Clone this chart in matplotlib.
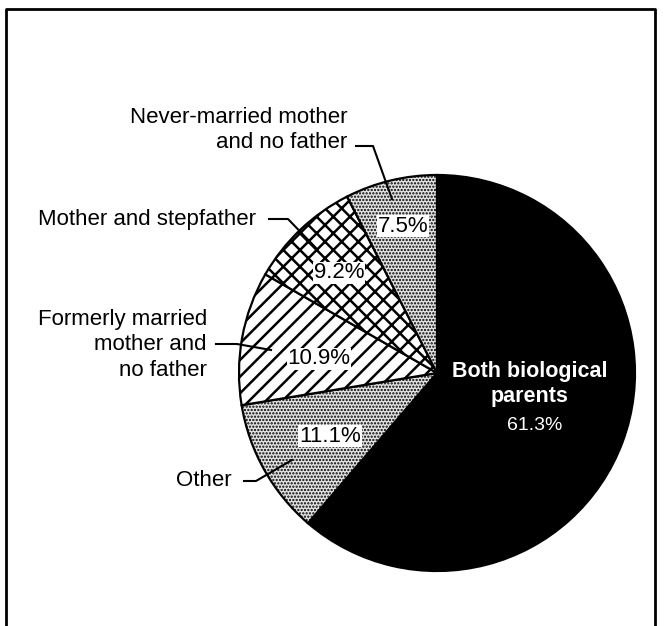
import matplotlib
matplotlib.use('Agg')
import matplotlib.pyplot as plt

# living arrangements of children, percent
categories = ['Both biological\nparents', 'Other', 'Formerly married\nmother and\nno father',
              'Mother and stepfather', 'Never-married mother\nand no father']
shares = [61.3, 11.1, 10.9, 9.2, 7.5]
pct_labels = ['61.3%', '11.1%', '10.9%', '9.2%', '7.5%']

W, H = 665, 626
plt.rcParams['font.family'] = ['Liberation Sans', 'DejaVu Sans']
plt.rcParams['hatch.linewidth'] = 1.8


def py(y):
    # image pixel row -> data y
    return H - y


fig = plt.figure(figsize=(W / 100, H / 100), dpi=100)
ax = fig.add_axes([0, 0, 1, 1])

cx, cy, r = 437, 373, 198
faces = ['black', '#e4e4e4', 'white', 'white', '#e4e4e4']
hatches = [None, '.....', '//', 'xx', '.....']
wedges, _ = ax.pie(shares, startangle=90, counterclock=False, center=(cx, py(cy)), radius=r,
                   colors=faces, frame=True,
                   wedgeprops=dict(edgecolor='black', linewidth=1.6))
for w, h in zip(wedges, hatches):
    if h:
        w.set_hatch(h)
        if h.startswith('.'):
            w.set_hatch_linewidth(1.1)

ax.set_xlim(0, W)
ax.set_ylim(0, H)
ax.set_aspect('auto')
ax.axis('off')

# frame around the chart
ax.plot([6, 6, 655, 655], [py(630), py(9), py(9), py(630)], color='black', lw=2, clip_on=False)

fs = 16
box = dict(facecolor='white', edgecolor='none', pad=0.6)

# text inside the black slice
ax.text(530, py(384), categories[0], color='white', fontsize=15.5, fontweight='bold',
        ha='center', va='center', linespacing=1.2)
ax.text(535, py(426), pct_labels[0], color='white', fontsize=14, ha='center', va='center')

# percent labels on hatched slices
ax.text(330, py(436), pct_labels[1], fontsize=fs, ha='center', va='center', bbox=box)
ax.text(319, py(359), pct_labels[2], fontsize=fs, ha='center', va='center', bbox=box)
ax.text(339, py(273), pct_labels[3], fontsize=fs, ha='center', va='center', bbox=box)
ax.text(403, py(226), pct_labels[4], fontsize=fs, ha='center', va='center', bbox=box)

# outside labels with leader lines
ax.text(347, py(130), categories[4], fontsize=fs, ha='right', va='center',
        multialignment='right', linespacing=1.25)
ax.plot([356, 373, 392], [py(146), py(146), py(199)], color='black', lw=1.5)

ax.text(256, py(219), categories[3], fontsize=fs, ha='right', va='center')
ax.plot([269, 288, 316], [py(219), py(219), py(248)], color='black', lw=1.5)

ax.text(207, py(345), categories[2], fontsize=fs, ha='right', va='center',
        multialignment='right', linespacing=1.25)
ax.plot([216, 237, 271], [py(344), py(344), py(350)], color='black', lw=1.5)

ax.text(232, py(481), categories[1], fontsize=fs, ha='right', va='center')
ax.plot([244, 256, 292], [py(481), py(481), py(460)], color='black', lw=1.5)

fig.savefig('out.png', dpi=100)
